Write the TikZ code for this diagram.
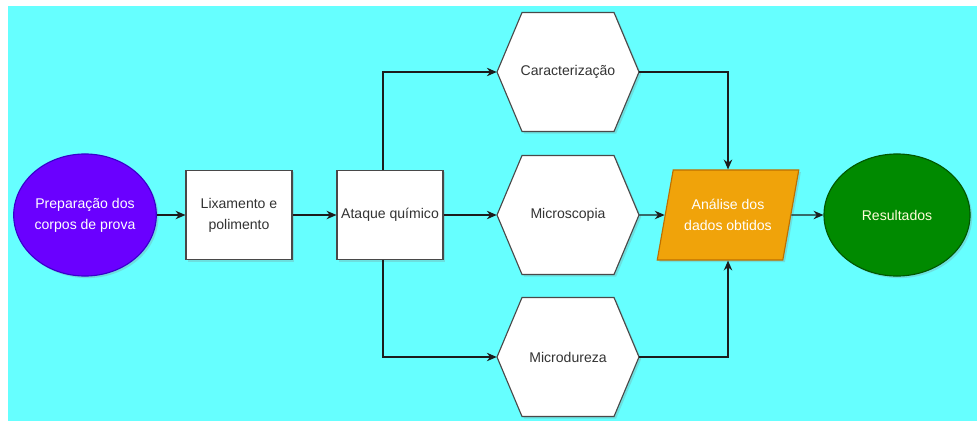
\documentclass[tikz,border=0pt]{standalone}
\usepackage{fontspec}
\setmainfont{Liberation Sans}
\usetikzlibrary{arrows.meta,positioning,shapes.geometric,shadows}
\definecolor{ink}{HTML}{1C1C1C}
\definecolor{sky}{HTML}{66FFFF}
\definecolor{grape}{HTML}{6A00FF}
\definecolor{grapeline}{HTML}{3700CC}
\definecolor{amber}{HTML}{F0A30A}
\definecolor{amberline}{HTML}{BD7000}
\definecolor{forest}{HTML}{008A00}
\definecolor{forestline}{HTML}{005700}
\definecolor{graytext}{HTML}{333333}

\begin{document}
\begin{tikzpicture}[
  x=0.025cm, y=-0.025cm,
  font=\fontsize{10}{15}\selectfont,
  >={Stealth[length=7pt,width=6pt]},
  flow/.style={->,line width=0.9pt,draw=ink},
  lift/.style={drop shadow={shadow xshift=1.5pt,shadow yshift=-1.5pt,opacity=0.25}},
  terminal/.style={ellipse,lift,minimum width=3.5cm,minimum height=3.05cm,
    inner sep=0pt,align=center,line width=0.8pt},
  stepbox/.style={rectangle,lift,draw=ink!80,fill=white,line width=0.8pt,
    minimum width=2.65cm,minimum height=2.24cm,inner sep=1pt,align=center,text=graytext},
  hexbox/.style={rectangle,minimum width=3.55cm,minimum height=2.975cm,text=graytext},
  hexline/.style={draw=ink!80,fill=white,lift,line width=0.8pt},
  datanode/.style={trapezium,trapezium left angle=68,trapezium right angle=112,
    trapezium stretches=true,minimum width=3.55cm,minimum height=2.25cm,
    inner sep=0pt,fill=amber,draw=amberline,line width=0.8pt,text=white,align=center,lift}
]
  \useasboundingbox (0,0) rectangle (977,420);
  \fill[white] (-5,-5) rectangle (985,430);
  \fill[sky] (8,6) rectangle (985,430);

  \node[terminal,fill=grape,draw=grapeline,text=white] (prep) at (85,215)
    {Preparação dos\\corpos de prova};
  \node[stepbox] (lix) at (239,215) {Lixamento e\\polimento};
  \node[stepbox] (ataque) at (390,215) {Ataque químico};

  \foreach \name/\ypos/\txt in {carac/72/Caracterização,micro/215/Microscopia,dureza/357/Microdureza}{
    \draw[hexline,shift={(568,\ypos)}] (-71,0) -- (-46,-59.5) -- (46,-59.5)
      -- (71,0) -- (46,59.5) -- (-46,59.5) -- cycle;
    \node[hexbox] (\name) at (568,\ypos) {\txt};
  }

  \node[datanode] (analise) at (728,215) {Análise dos\\dados obtidos};
  \node[terminal,fill=forest,draw=forestline,text=white!85!yellow,
    minimum width=3.65cm] (result) at (897,215) {Resultados};

  \draw[flow] (prep) -- (lix);
  \draw[flow] (lix) -- (ataque);
  \draw[flow] (ataque) -- (micro);
  \draw[flow] ([xshift=-0.175cm]ataque.north) |- (carac.west);
  \draw[flow] ([xshift=-0.175cm]ataque.south) |- (dureza.west);
  \draw[flow] (carac.east) -| (analise.north);
  \draw[flow] (micro) -- (analise);
  \draw[flow] (dureza.east) -| (analise.south);
  \draw[flow] (analise) -- (result);
\end{tikzpicture}
\end{document}
